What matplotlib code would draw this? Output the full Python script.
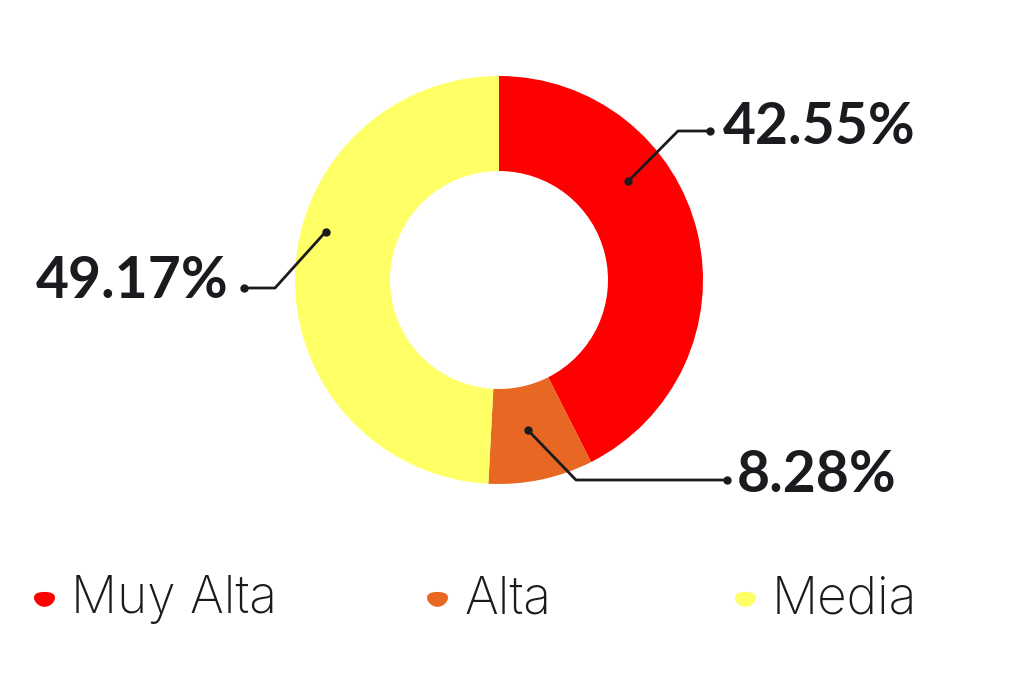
"""Donut chart: share by priority level (Muy Alta / Alta / Media)."""
import numpy as np
import matplotlib
matplotlib.use("Agg")
import matplotlib.pyplot as plt
from matplotlib.path import Path

categories = ["Muy Alta", "Alta", "Media"]
shares = [42.55, 8.28, 49.17]
colors = ["#FF0000", "#E86722", "#FFFF66"]
pct_labels = ["42.55%", "8.28%", "49.17%"]

INK = "#1b1b1f"
W, H = 1024, 690

fig = plt.figure(figsize=(W / 100, H / 100), dpi=100)
ax = fig.add_axes([0, 0, 1, 1])

cx, cy, r_out, width = 499, H - 280, 204, 95
wedges, _ = ax.pie(shares, colors=colors, startangle=90, counterclock=False,
                   radius=r_out, center=(cx, cy), frame=True,
                   wedgeprops=dict(width=width, linewidth=0))
ax.set_xlim(0, W)
ax.set_ylim(0, H)
ax.set_aspect("equal")
ax.axis("off")

# leader layout per slice: dot angle offset (deg), dot radius, elbow, text anchor
layout = [
    dict(dang=24, r=163, elbow=(678, H - 131), end=(710, H - 131),
         text=(723, H - 128), ha="left"),
    dict(dang=-1, r=153, elbow=(576, H - 480), end=(727, H - 480),
         text=(737, H - 476), ha="left"),
    dict(dang=-14, r=180, elbow=(275, H - 288), end=(244, H - 288),
         text=(229, H - 282), ha="right"),
]
for w, lay, lab in zip(wedges, layout, pct_labels):
    mid = np.deg2rad((w.theta1 + w.theta2) / 2 + lay["dang"])
    px, py = cx + lay["r"] * np.cos(mid), cy + lay["r"] * np.sin(mid)
    xs = [px, lay["elbow"][0], lay["end"][0]]
    ys = [py, lay["elbow"][1], lay["end"][1]]
    ax.plot(xs, ys, color=INK, lw=2, solid_capstyle="round", zorder=3)
    ax.plot([px, lay["end"][0]], [py, lay["end"][1]], "o", color=INK,
            ms=5, zorder=4)
    ax.text(lay["text"][0], lay["text"][1], lab, ha=lay["ha"], va="center",
            fontsize=41, fontweight="bold", family=["Lato", "DejaVu Sans"],
            color=INK)

# legend: blob markers with light labels
t = np.linspace(0, 2 * np.pi, 40)
blob = Path(np.column_stack([1.2 * np.cos(t), 0.85 * np.sin(t) + 0.1 * np.cos(2 * t)]))
leg_x = [44, 437, 745]
leg_y = H - 598
for x, name, col in zip(leg_x, categories, colors):
    ax.scatter([x], [leg_y], marker=blob, s=230, color=col, linewidths=0)
    ax.text(x + 27, leg_y - 2, name, ha="left", va="center", fontsize=37,
            fontweight="light", family=["Inter", "DejaVu Sans"], color=INK)

fig.savefig("out.png", dpi=100, facecolor="white")
